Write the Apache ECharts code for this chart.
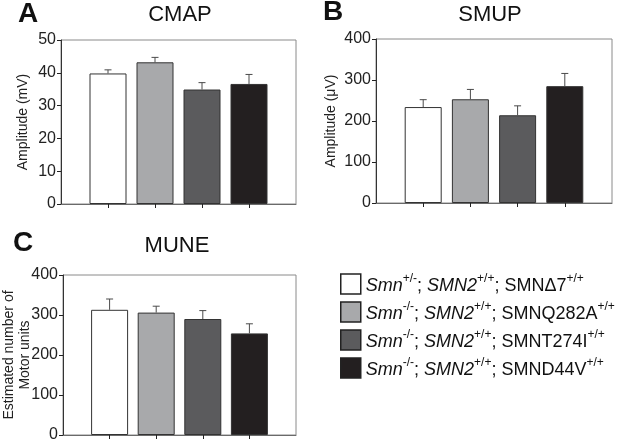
<!DOCTYPE html>
<html>
<head>
<meta charset="utf-8">
<script src="https://cdn.jsdelivr.net/npm/echarts@6/dist/echarts.min.js"></script>
<style>
  html, body { margin: 0; padding: 0; background: #fff; }
  #chart { width: 625px; height: 443px; }
</style>
</head>
<body>
<div id="chart"></div>
<script>
// genotypes (legend order = bar order)
const genotypes = ['g1', 'g2', 'g3', 'g4'];
const genotypeLabels = [
  '{i|Smn}{s|+/-}{n|; }{i|SMN2}{s|+/+}{n|; SMNΔ7}{s|+/+}',
  '{i|Smn}{s|-/-}{n|; }{i|SMN2}{s|+/+}{n|; SMNQ282A}{s|+/+}',
  '{i|Smn}{s|-/-}{n|; }{i|SMN2}{s|+/+}{n|; SMNT274I}{s|+/+}',
  '{i|Smn}{s|-/-}{n|; }{i|SMN2}{s|+/+}{n|; SMND44V}{s|+/+}'
];
const barColors = ['#ffffff', '#a8a9ab', '#5b5b5d', '#231f20'];

// panel values (mean + upper error)
const cmapMean = [39.8, 43.2, 34.9, 36.6];
const cmapErr = [1.1, 1.5, 2.1, 2.9];
const smupMean = [234, 253, 214, 285];
const smupErr = [18, 24, 23, 31];
const muneMean = [313, 306, 290, 254];
const muneErr = [27, 16, 21, 24];

// axis ranges
const cmapAxis = { max: 50, interval: 10 };
const smupAxis = { max: 400, interval: 100 };
const muneAxis = { max: 400, interval: 100 };

const FONT = 'Liberation Sans, Arial, sans-serif';

const panels = [
  { mean: cmapMean, err: cmapErr, axis: cmapAxis, name: 'Amplitude (mV)', gap: 30 },
  { mean: smupMean, err: smupErr, axis: smupAxis, name: 'Amplitude (μV)', gap: 37 },
  { mean: muneMean, err: muneErr, axis: muneAxis, name: 'Estimated number of\nMotor units', gap: 30 }
];

const chart = echarts.init(document.getElementById('chart'));

// empty slot at each end so the 4 bars sit at points 1..4
const xCats = [''].concat(genotypes, ['']);

function renderErr(params, api) {
  const x = api.value(0);
  const m = api.value(1);
  const e = api.value(2);
  const base = api.coord([x, m]);
  const top = api.coord([x, m + e]);
  const st = { stroke: '#4a4a4a', lineWidth: 1 };
  return {
    type: 'group',
    children: [
      { type: 'line', shape: { x1: base[0], y1: base[1], x2: top[0], y2: top[1] }, style: st },
      { type: 'line', shape: { x1: top[0] - 3.5, y1: top[1], x2: top[0] + 3.5, y2: top[1] }, style: st }
    ]
  };
}

const grids = [
  { left: 61, top: 40, width: 235, height: 164 },
  { left: 376, top: 39, width: 236, height: 164 },
  { left: 61, top: 275, width: 235, height: 164 }
].map(g => Object.assign(g, { show: true, borderColor: '#8a8a8a', borderWidth: 1, backgroundColor: 'transparent' }));

const xAxes = panels.map((p, i) => ({
  type: 'category',
  gridIndex: i,
  data: xCats,
  boundaryGap: false,
  axisLine: { lineStyle: { color: '#6a6a6a', width: 1 } },
  axisTick: {
    inside: false, length: 4,
    interval: idx => idx >= 1 && idx <= 4,
    lineStyle: { color: '#222' }
  },
  axisLabel: { show: false },
  splitLine: { show: false }
}));

const yAxes = panels.map((p, i) => ({
  type: 'value',
  gridIndex: i,
  min: 0,
  max: p.axis.max,
  interval: p.axis.interval,
  name: p.name,
  nameLocation: 'middle',
  nameRotate: 90,
  nameGap: p.gap,
  nameMoveOverlap: false,
  nameTextStyle: { fontFamily: FONT, fontSize: 14, color: '#222', lineHeight: 16 },
  axisLine: { show: true, lineStyle: { color: '#333', width: 1 } },
  axisTick: { show: true, inside: false, length: 4, lineStyle: { color: '#222' } },
  axisLabel: { fontFamily: FONT, fontSize: 16, color: '#222', margin: 5 },
  splitLine: { show: false }
}));

const series = [];
panels.forEach((p, pi) => {
  genotypes.forEach((g, gi) => {
    series.push({
      name: g,
      type: 'bar',
      xAxisIndex: pi,
      yAxisIndex: pi,
      barWidth: 37,
      barGap: '-100%',
      itemStyle: { color: barColors[gi], borderColor: '#333', borderWidth: 1 },
      data: xCats.map((c, k) => (k === gi + 1 ? p.mean[gi] : '-')),
      z: 2
    });
  });
  series.push({
    type: 'custom',
    xAxisIndex: pi,
    yAxisIndex: pi,
    renderItem: renderErr,
    encode: { x: 0, y: 1 },
    data: p.mean.map((m, k) => [k + 1, m, p.err[k]]),
    z: 5,
    silent: true
  });
});

const titleFont = '22px ' + FONT;
const letterFont = 'bold 28px ' + FONT;
const graphic = [
  { type: 'text', x: 180, y: 15, style: { text: 'CMAP', font: titleFont, fill: '#111', textAlign: 'center', textVerticalAlign: 'middle' } },
  { type: 'text', x: 490, y: 15, style: { text: 'SMUP', font: titleFont, fill: '#111', textAlign: 'center', textVerticalAlign: 'middle' } },
  { type: 'text', x: 177, y: 246, style: { text: 'MUNE', font: titleFont, fill: '#111', textAlign: 'center', textVerticalAlign: 'middle' } },
  { type: 'text', x: 28, y: 14, style: { text: 'A', font: letterFont, fill: '#111', textAlign: 'center', textVerticalAlign: 'middle' } },
  { type: 'text', x: 333, y: 12, style: { text: 'B', font: letterFont, fill: '#111', textAlign: 'center', textVerticalAlign: 'middle' } },
  { type: 'text', x: 23, y: 243, style: { text: 'C', font: letterFont, fill: '#111', textAlign: 'center', textVerticalAlign: 'middle' } }
];

chart.setOption({
  animation: false,
  grid: grids,
  xAxis: xAxes,
  yAxis: yAxes,
  graphic: graphic,
  legend: {
    data: genotypes,
    orient: 'vertical',
    left: 340,
    top: 273,
    padding: 0,
    itemWidth: 20,
    itemHeight: 20,
    itemGap: 6,
    icon: 'rect',
    selectedMode: false,
    itemStyle: { borderColor: '#222', borderWidth: 1.5 },
    formatter: name => genotypeLabels[genotypes.indexOf(name)],
    textStyle: {
      fontFamily: FONT,
      fontSize: 18,
      color: '#111',
      rich: {
        n: { fontFamily: FONT, fontSize: 18, color: '#111', lineHeight: 22, verticalAlign: 'bottom' },
        i: { fontFamily: FONT, fontSize: 18, fontStyle: 'italic', color: '#111', lineHeight: 22, verticalAlign: 'bottom' },
        s: { fontFamily: FONT, fontSize: 12, color: '#111', lineHeight: 14, verticalAlign: 'top' }
      }
    }
  },
  series: series
});
</script>
</body>
</html>
